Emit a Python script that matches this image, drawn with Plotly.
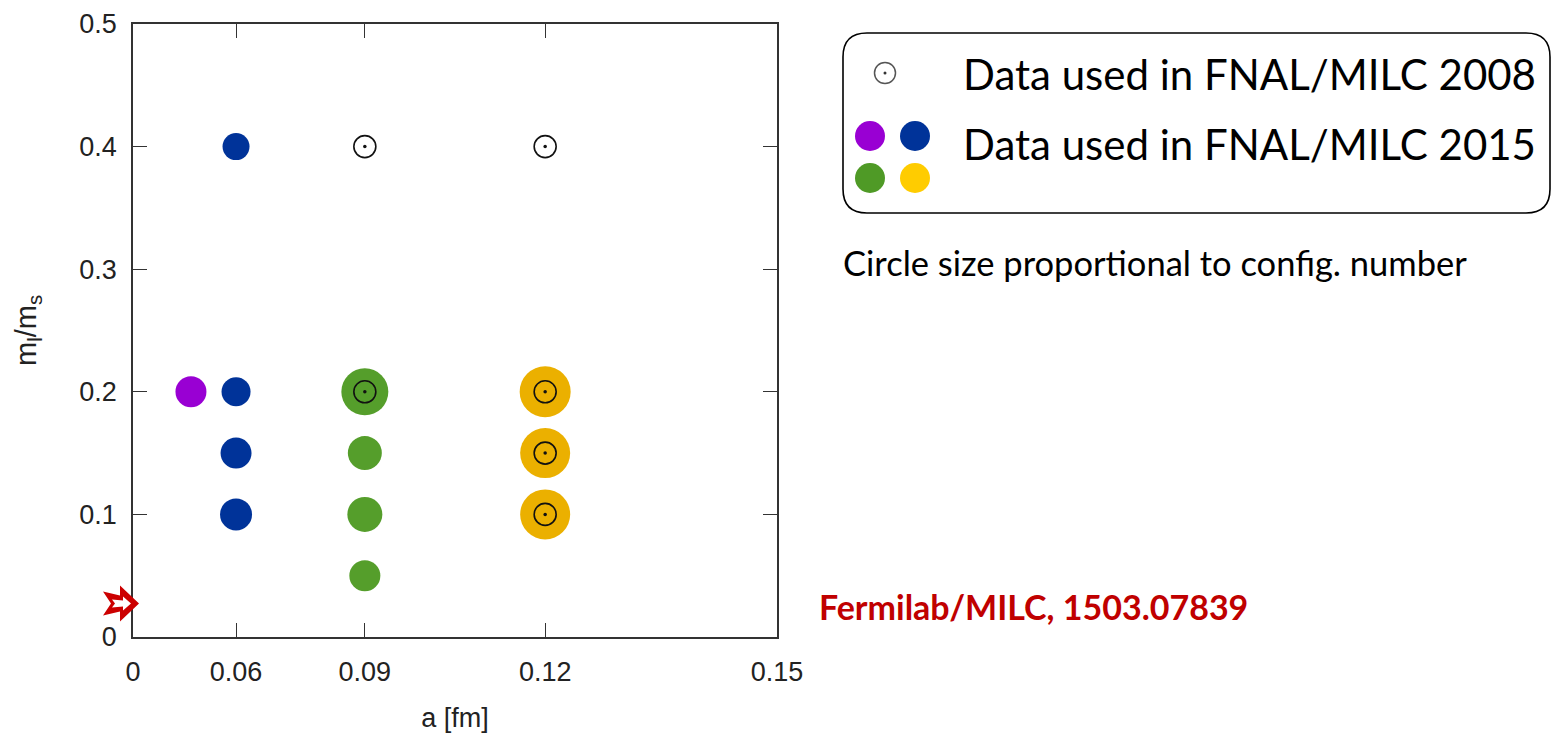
import plotly.graph_objects as go

# ---------------- data ----------------
# FNAL/MILC 2015 ensembles (lattice spacing a [fm], m_l/m_s, relative configuration number -> circle size)
a_045 = [0.045]
r_045 = [0.2]
n_045 = [31]

a_06 = [0.06, 0.06, 0.06, 0.06]
r_06 = [0.4, 0.2, 0.15, 0.1]
n_06 = [27, 29, 31, 32]

a_09 = [0.09, 0.09, 0.09, 0.09]
r_09 = [0.2, 0.15, 0.1, 0.05]
n_09 = [47, 34, 35, 31]

a_12 = [0.12, 0.12, 0.12]
r_12 = [0.2, 0.15, 0.1]
n_12 = [51, 50, 50]

# FNAL/MILC 2008 ensembles
a_2008 = [0.09, 0.12, 0.09, 0.12, 0.12, 0.12]
r_2008 = [0.4, 0.4, 0.2, 0.2, 0.15, 0.1]

# physical light/strange mass ratio (arrow)
phys_ratio = 0.0274

x_ticks = [0, 0.06, 0.09, 0.12, 0.15]
x_ticklabels = ["0", "0.06", "0.09", "0.12", "0.15"]
y_ticks = [0, 0.1, 0.2, 0.3, 0.4, 0.5]
y_ticklabels = ["0", "0.1", "0.2", "0.3", "0.4", "0.5"]

# ---------------- layout helpers ----------------
W, H = 1553, 738
PL, PR, PT, PB = 133, 777, 24, 637  # plot area in pixels


def px(x):
    return x / W


def py(y):
    return 1 - y / H


def sq(v):
    # horizontal axis is linear in a^2
    return [t * t for t in v]


fig = go.Figure()

series = [
    (a_045, r_045, n_045, "#9900D3"),
    (a_06, r_06, n_06, "#003399"),
    (a_09, r_09, n_09, "#559E2B"),
    (a_12, r_12, n_12, "#EBB000"),
]
for a, r, n, c in series:
    fig.add_trace(go.Scatter(
        x=sq(a), y=r, mode="markers",
        marker=dict(size=n, color=c, opacity=1, line=dict(width=0)),
        showlegend=False, hoverinfo="skip"))

fig.add_trace(go.Scatter(
    x=sq(a_2008), y=r_2008, mode="markers",
    marker=dict(symbol="circle-open", size=22, color="#111111", opacity=1,
                line=dict(width=1.6, color="#111111")),
    showlegend=False, hoverinfo="skip"))
fig.add_trace(go.Scatter(
    x=sq(a_2008), y=r_2008, mode="markers",
    marker=dict(symbol="circle", size=3.5, color="#111111", opacity=1,
                line=dict(width=0)),
    showlegend=False, hoverinfo="skip"))

FONT = "Liberation Sans, Arial, sans-serif"
axis_common = dict(
    showline=True, linecolor="#333333", linewidth=1.5, mirror="ticks",
    ticks="inside", ticklen=14, tickcolor="#333333", tickwidth=1.2,
    showgrid=False, zeroline=False,
    tickfont=dict(family=FONT, size=27, color="#222222"),
    automargin=False,
)

fig.update_layout(
    width=W, height=H,
    margin=dict(l=0, r=0, t=0, b=0),
    paper_bgcolor="white", plot_bgcolor="white",
    xaxis=dict(
        domain=[px(PL), px(PR)],
        range=[0, 0.15 ** 2],
        tickmode="array", tickvals=sq(x_ticks), ticktext=x_ticklabels,
        ticklabelstandoff=10,
        title=dict(text="a [fm]", standoff=22,
                   font=dict(family=FONT, size=27, color="#222222")),
        **axis_common),
    yaxis=dict(
        domain=[py(PB), py(PT)],
        range=[0, 0.5],
        tickmode="array", tickvals=y_ticks, ticktext=y_ticklabels,
        ticklabelstandoff=9,
        title=dict(text="m<sub>l</sub>/m<sub>s</sub>", standoff=34,
                   font=dict(family=FONT, size=29, color="#222222")),
        **axis_common),
)

# ---------------- custom legend box ----------------
L, T, R, B, rad = 843, 33, 1550, 213, 24
path = (
    f"M {px(L + rad)} {py(T)} L {px(R - rad)} {py(T)} "
    f"Q {px(R)} {py(T)} {px(R)} {py(T + rad)} L {px(R)} {py(B - rad)} "
    f"Q {px(R)} {py(B)} {px(R - rad)} {py(B)} L {px(L + rad)} {py(B)} "
    f"Q {px(L)} {py(B)} {px(L)} {py(B - rad)} L {px(L)} {py(T + rad)} "
    f"Q {px(L)} {py(T)} {px(L + rad)} {py(T)} Z"
)
shapes = [dict(type="path", xref="paper", yref="paper", path=path,
               line=dict(color="black", width=1.6), fillcolor="rgba(0,0,0,0)")]


def dot(cx, cy, d, fill, line=None, lw=0):
    return dict(type="circle", xref="paper", yref="paper",
                x0=px(cx - d / 2), x1=px(cx + d / 2),
                y0=py(cy + d / 2), y1=py(cy - d / 2),
                fillcolor=fill, line=dict(color=line or fill, width=lw))


shapes += [
    dot(885, 73, 21, "rgba(0,0,0,0)", "#555555", 1.5),
    dot(885, 73, 3, "#333333"),
    dot(870, 136, 30, "#9900D3"),
    dot(915, 136, 30, "#003399"),
    dot(870, 178, 30, "#4F9A26"),
    dot(915, 178, 30, "#FFCC00"),
]

# physical-point arrow (anchored at the y value, pixel geometry)
arrow_red = "M 6 0 L -13 18 L -13 8 L -30 12 L -22 0 L -30 -12 L -13 -8 L -13 -18 Z"
arrow_white = "M -2 0 L -10 7 L -10 3 L -21 4 L -18 0 L -21 -4 L -10 -3 L -10 -7 Z"
for p, c in [(arrow_red, "#CC0000"), (arrow_white, "white")]:
    shapes.append(dict(type="path", xref="paper", yref="y",
                       xsizemode="pixel", ysizemode="pixel",
                       xanchor=px(PL), yanchor=phys_ratio,
                       path=p, fillcolor=c, line=dict(width=0)))

fig.update_layout(shapes=shapes)

calibri_like = "Lato, Open Sans, sans-serif"
annotations = [
    dict(text="Data used in FNAL/MILC 2008", x=px(961), y=py(74), size=42, color="black"),
    dict(text="Data used in FNAL/MILC 2015", x=px(961), y=py(144), size=42, color="black"),
    dict(text="Circle size proportional to config. number", x=px(841), y=py(262), size=34.5, color="black"),
    dict(text="<b>Fermilab/MILC, 1503.07839</b>", x=px(817), y=py(606), size=34, color="#C00000"),
]
fig.update_layout(annotations=[
    dict(text=a["text"], x=a["x"], y=a["y"], xref="paper", yref="paper",
         xanchor="left", yanchor="middle", showarrow=False,
         font=dict(family=calibri_like, size=a["size"], color=a["color"]))
    for a in annotations
])

fig.write_html("out.html")
